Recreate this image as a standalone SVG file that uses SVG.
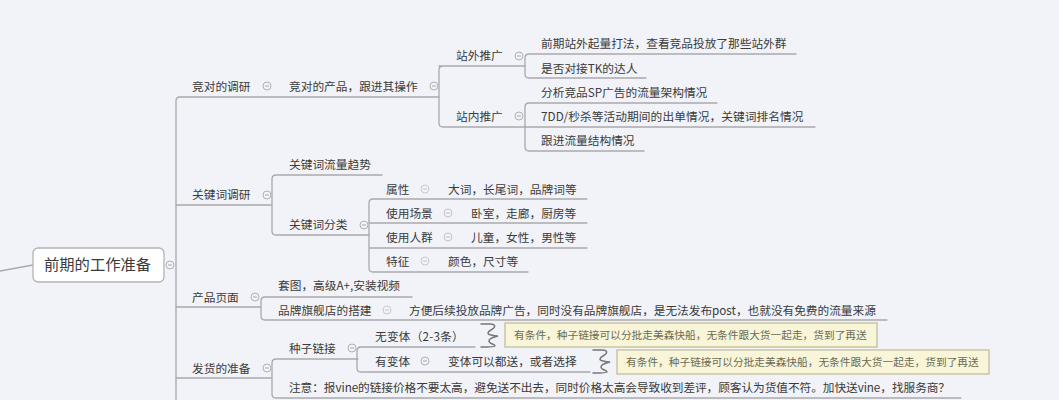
<svg xmlns="http://www.w3.org/2000/svg" width="1059" height="400" viewBox="0 0 1059 400">
<style>
text{font-family:"Noto Sans CJK SC","Liberation Sans",sans-serif;font-size:11.7px;fill:#3a3a3a}
.root{font-size:15.3px}
.note{font-size:10.7px;fill:#6b6b55}
.c{fill:none;stroke:#a9a9ad;stroke-width:1.3;stroke-linecap:round}
.t{stroke:#b0b0b4;fill:#f1f3f8;stroke-width:1}
.m{stroke:#a9a9ad;stroke-width:1}
.y{fill:#f8f5d8;stroke:#c8c6a2;stroke-width:1.5}
.b{fill:none;stroke:#777;stroke-width:1.5;stroke-linecap:round}
</style>
<defs>
<g id="tog"><circle class="t" r="4"/><line class="m" x1="-2" x2="2" y1="0" y2="0"/></g>
<path id="brace" class="b" d="M0 0H9C16 0 14 4 10 6C6 8 6 10 10 11C14 12 15 12 17 12C14 13 8 14 8 17C8 20 14 20 14 22C14 23 8 23 0 23"/>
</defs>
<rect width="1059" height="400" fill="#f1f3f8"/>
<g id="connectors">
<path class="c" d="M0 271L33 265"/>
<path class="c" d="M176 400V101Q176 97 180 97H439"/>
<path class="c" d="M443 66Q439 66 439 70V123Q439 127 443 127H525M439 66H525"/>
<path class="c" d="M796 54H529Q525 54 525 58V74Q525 78 529 78H646"/>
<path class="c" d="M717 103H529Q525 103 525 107V147Q525 151 529 151H644M525 127H815"/>
<path class="c" d="M176 205H272M382 175H276Q272 175 272 179V231Q272 235 276 235H369"/>
<path class="c" d="M587 199H373Q369 199 369 203V268Q369 272 373 272H528M369 223H587M369 248H587"/>
<path class="c" d="M176 307H261M412 297H265Q261 297 261 301V316Q261 320 265 320H887"/>
<path class="c" d="M176 378H272M358 359H276Q272 359 272 363V394Q272 398 276 398H961"/>
<path class="c" d="M475 347H361Q357 347 357 351V368Q357 372 361 372H590"/>
</g>
<g id="root"><rect x="33" y="248" width="131" height="34" rx="5" fill="#fff" stroke="#b4b4b8" stroke-width="1.3"/><text class="root" x="44" y="270">前期的工作准备</text></g>
<g id="n1"><text x="192" y="91">竞对的调研</text></g>
<g id="n2"><text x="289" y="91">竞对的产品，跟进其操作</text></g>
<g id="n3"><text x="456" y="60">站外推广</text></g>
<g id="n4"><text x="456" y="121">站内推广</text></g>
<g id="n5"><text x="541" y="48">前期站外起量打法，查看竞品投放了那些站外群</text></g>
<g id="n6"><text x="541" y="73">是否对接TK的达人</text></g>
<g id="n7"><text x="541" y="97">分析竞品SP广告的流量架构情况</text></g>
<g id="n8"><text x="541" y="121" letter-spacing=".08">7DD/秒杀等活动期间的出单情况，关键词排名情况</text></g>
<g id="n9"><text x="541" y="145">跟进流量结构情况</text></g>
<g id="n10"><text x="289" y="169">关键词流量趋势</text></g>
<g id="n11"><text x="192" y="199">关键词调研</text></g>
<g id="n12"><text x="289" y="229">关键词分类</text></g>
<g id="n13"><text x="386" y="194">属性</text></g>
<g id="n14"><text x="448" y="194">大词，长尾词，品牌词等</text></g>
<g id="n15"><text x="386" y="218">使用场景</text></g>
<g id="n16"><text x="471" y="218">卧室，走廊，厨房等</text></g>
<g id="n17"><text x="386" y="242">使用人群</text></g>
<g id="n18"><text x="471" y="242">儿童，女性，男性等</text></g>
<g id="n19"><text x="386" y="266">特征</text></g>
<g id="n20"><text x="448" y="266">颜色，尺寸等</text></g>
<g id="n21"><text x="192" y="302">产品页面</text></g>
<g id="n22"><text x="278" y="290">套图，高级A+,安装视频</text></g>
<g id="n23"><text x="278" y="315">品牌旗舰店的搭建</text></g>
<g id="n24"><text x="409" y="315" letter-spacing="-.03">方便后续投放品牌广告，同时没有品牌旗舰店，是无法发布post，也就没有免费的流量来源</text></g>
<g id="n25"><text x="289" y="353">种子链接</text></g>
<g id="n26"><text x="192" y="373">发货的准备</text></g>
<g id="n27"><text x="375" y="341" letter-spacing=".2">无变体（2-3条）</text></g>
<g id="n28"><text x="375" y="366">有变体</text></g>
<g id="n29"><text x="448" y="366">变体可以都送，或者选择</text></g>
<g id="n30"><text x="289" y="392" letter-spacing="-.07">注意：报vine的链接价格不要太高，避免送不出去，同时价格太高会导致收到差评，顾客认为货值不符。加快送vine，找服务商？</text></g>
<g id="note1"><use href="#brace" x="481" y="324"/><rect class="y" x="505" y="323" width="372" height="24"/><text class="note" x="514" y="339">有条件，种子链接可以分批走美森快船，无条件跟大货一起走，货到了再送</text></g>
<g id="note2"><use href="#brace" x="593" y="350"/><rect class="y" x="617" y="350" width="372" height="24"/><text class="note" x="626" y="366">有条件，种子链接可以分批走美森快船，无条件跟大货一起走，货到了再送</text></g>
<g id="toggles">
<use href="#tog" x="170" y="265"/><use href="#tog" x="267" y="86"/><use href="#tog" x="434" y="86"/><use href="#tog" x="519" y="56"/><use href="#tog" x="519" y="116"/><use href="#tog" x="267" y="195"/><use href="#tog" x="364" y="225"/><use href="#tog" x="425" y="189" opacity=".6"/><use href="#tog" x="448" y="213" opacity=".7"/><use href="#tog" x="448" y="237" opacity=".7"/><use href="#tog" x="425" y="261" opacity=".6"/><use href="#tog" x="255" y="297"/><use href="#tog" x="387" y="310" opacity=".6"/><use href="#tog" x="352" y="348"/><use href="#tog" x="267" y="368"/><use href="#tog" x="425" y="361"/>
</g>
</svg>
